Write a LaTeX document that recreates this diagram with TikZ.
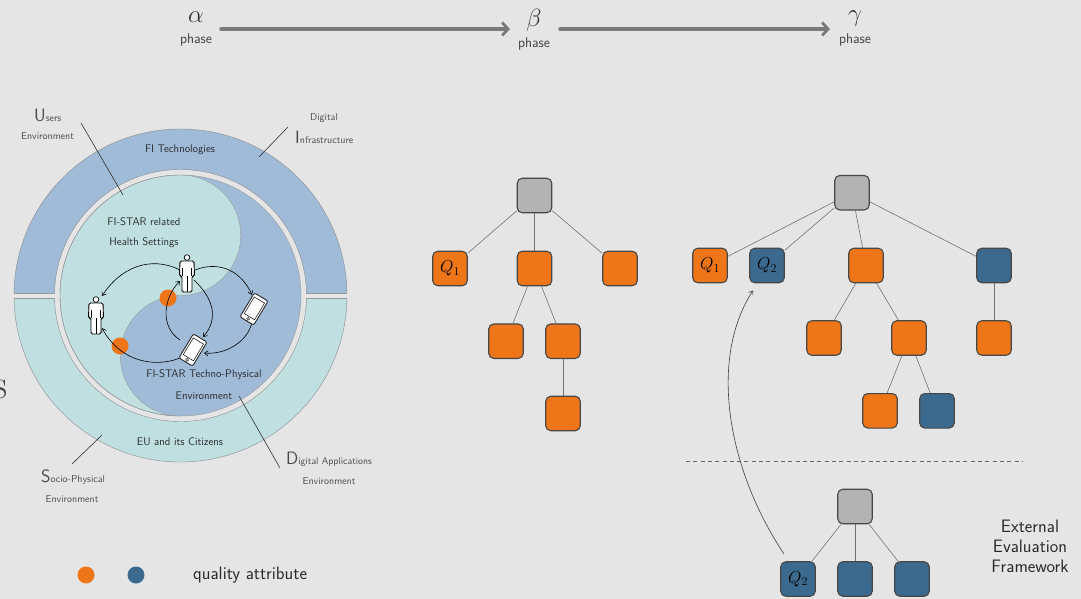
\documentclass[tikz,border=0pt]{standalone}
\usepackage{fontspec}
\usetikzlibrary{arrows.meta,calc}
\definecolor{bgc}{HTML}{E5E5E5}
\definecolor{ringblue}{HTML}{A0BBD8}
\definecolor{ringteal}{HTML}{BFDFE0}
\definecolor{orangeq}{HTML}{EE7518}
\definecolor{blueq}{HTML}{3B6A8E}
\definecolor{grayq}{HTML}{B3B3B3}
\definecolor{inkc}{HTML}{2B2B2B}
\tikzset{
  treebox/.style={draw=black!72,line width=1.1pt,rounded corners=5pt,minimum size=34.5pt,inner sep=0pt,text=black,font=\fontsize{17}{18}\selectfont},
  orangebox/.style={treebox,fill=orangeq},
  bluebox/.style={treebox,fill=blueq},
  graybox/.style={treebox,fill=grayq},
  link/.style={draw=black!55,line width=0.6pt},
  leader/.style={draw=black!85,line width=0.55pt},
  flow/.style={draw=black,line width=0.6pt,-{Straight Barb[length=3.5pt,width=5pt]}},
  phasearrow/.style={draw=black!52,line width=3.4pt,-{Straight Barb[length=6pt,width=13pt,line width=2.8pt]},line cap=round},
  lbl/.style={inner sep=0pt,text=inkc,font=\sffamily\fontsize{11}{13}\selectfont},
  small/.style={inner sep=0pt,text=black!70,font=\sffamily\fontsize{10}{12}\selectfont},
  big/.style={inner sep=0pt,text=inkc,font=\sffamily\fontsize{18}{20}\selectfont},
  phasetxt/.style={inner sep=0pt,text=black!75,font=\sffamily\fontsize{14}{16}\selectfont},
  greek/.style={inner sep=0pt,text=black!80,font=\fontsize{24}{24}\selectfont},
  dot/.style={circle,fill=#1,inner sep=0pt,minimum size=17pt},
}
\newcommand{\personicon}[2]{%
  \begin{scope}[shift={(#1,#2)}]
    \fill[white,draw=black,line width=0.7pt] (0,-15.5) circle (2.8);
    \fill[white,draw=black,line width=0.9pt,rounded corners=1.5pt]
      (-7,-12) -- (7,-12) -- (7.5,3) -- (5,3) -- (5,19) -- (-5,19) -- (-5,3) -- (-7.5,3) -- cycle;
    \draw[line width=0.9pt] (0,3) -- (0,19) (-4.8,-5) -- (-4.8,3) (4.8,-5) -- (4.8,3);
  \end{scope}}
\newcommand{\tableticon}[2]{%
  \begin{scope}[shift={(#1,#2)},rotate=-31]
    \fill[white,draw=black!85,line width=0.9pt,rounded corners=2pt] (-8,-14) rectangle (8,14);
    \fill[white,draw=black!85,line width=0.6pt] (-6,-10.5) rectangle (6,9);
    \draw[line width=0.6pt,black!85] (0,11.5) circle (1.5);
  \end{scope}}
\begin{document}
\begin{tikzpicture}[x=1pt,y=-1pt]
\useasboundingbox (0,0) rectangle (1081,599);
\fill[bgc] (0,0) rectangle (1081,599);
% outer bands
\begin{scope}
  \clip (0,0) rectangle (1081,293.2);
  \fill[ringblue,draw=black!45,line width=0.4pt,even odd rule] (180.5,295.5) circle (166.5) (180.5,295.5) circle (126);
\end{scope}
\begin{scope}
  \clip (0,298) rectangle (1081,599);
  \fill[ringteal,draw=black!45,line width=0.4pt,even odd rule] (180.5,295.5) circle (166.5) (180.5,295.5) circle (126);
\end{scope}
\draw[black!40,line width=0.4pt] (14,293.2) -- (55,293.2) (306,293.2) -- (347,293.2) (14,298) -- (55,298) (306,298) -- (347,298);
% inner disc
\fill[ringblue] (180.5,295.5) circle (120.5);
\fill[ringteal,draw=black!40,line width=0.4pt] (180.5,175) arc[start angle=-90,end angle=90,radius=60.25]
  arc[start angle=-90,end angle=-270,radius=60.25]
  arc[start angle=90,end angle=270,radius=120.5] -- cycle;
\draw[black!40,line width=0.4pt] (180.5,295.5) circle (120.5);
% leaders
\coordinate (usersA) at (81,123); \coordinate (usersB) at (123,195);
\coordinate (infraA) at (288,127); \coordinate (infraB) at (259,157);
\coordinate (socioA) at (72,464); \coordinate (socioB) at (102,435);
\coordinate (appsA) at (280,468); \coordinate (appsB) at (239,396);
\draw[leader] (usersA) -- (usersB);
\draw[leader] (infraA) -- (infraB);
\draw[leader] (socioA) -- (socioB);
\draw[leader] (appsA) -- (appsB);
% dots
\node[dot=orangeq] (odotA) at (168,298) {};
\node[dot=orangeq] (odotB) at (120,346) {};
% flows
\coordinate (p1l) at (180,270); \coordinate (p1r) at (195,270); \coordinate (p1d) at (194,280); \coordinate (p1in) at (180,281);
\coordinate (p2t) at (102,296); \coordinate (p2b) at (102,328);
\coordinate (t1t) at (252,295); \coordinate (t1b) at (252,322);
\coordinate (t2t) at (203,337); \coordinate (t2r) at (204,353); \coordinate (t2l) at (180,340); \coordinate (t2d) at (180,358);
\draw[flow] (p1l) .. controls (150,255) and (120,268) .. (p2t);
\draw[flow] (p1r) .. controls (220,260) and (242,272) .. (t1t);
\draw[flow] (p1d) .. controls (215,300) and (218,320) .. (t2t);
\draw[flow] (t1b) .. controls (248,342) and (225,355) .. (t2r);
\draw[flow] (t2l) .. controls (160,327) and (163,298) .. (p1in);
\draw[flow] (t2d) .. controls (155,368) and (120,362) .. (p2b);
% icons
\personicon{187}{273}
\personicon{96}{315}
\tableticon{254}{309}
\tableticon{193}{350}
% ring labels
\node[lbl] (fitech) at (180,150) {FI Technologies};
\node[lbl] (eucit) at (180,442) {EU and its Citizens};
\node[lbl] (hs1) at (144,222) {FI-STAR related};
\node[lbl] (hs2) at (144,243) {Health Settings};
\node[lbl] (tp1) at (204,375) {FI-STAR Techno-Physical};
\node[lbl] (tp2) at (204,396) {Environment};
\node[small,anchor=west] (ulab) at (34,115) {\fontsize{18}{18}\selectfont U\fontsize{10}{12}\selectfont sers};
\node[small] (ulab2) at (47.5,136) {Environment};
\node[small] (dilab) at (324,118) {Digital};
\node[small,anchor=west] (dilab2) at (295,137) {\fontsize{18}{18}\selectfont I\fontsize{10}{12}\selectfont nfrastructure};
\node[small,anchor=west] (slab) at (41,477) {\fontsize{18}{18}\selectfont S\fontsize{10}{12}\selectfont ocio-Physical};
\node[small] (slab2) at (72,499) {Environment};
\node[small,anchor=west] (dalab) at (286,459) {\fontsize{18}{18}\selectfont D\fontsize{9.8}{12}\selectfont igital Applications};
\node[small] (dalab2) at (329,481) {Environment};
% clipped letter at the left edge
\node[inner sep=0pt,text=black!75,font=\fontsize{42}{42}\selectfont] (edge) at (0,389) {s};
% phases
\node[greek] (alpha) at (196,17) {$\alpha$};
\node[phasetxt] (alphaP) at (196,40) {phase};
\node[greek] (beta) at (534,20) {$\beta$};
\node[phasetxt] (betaP) at (534,44) {phase};
\node[greek] (gamma) at (855,19) {$\gamma$};
\node[phasetxt] (gammaP) at (855,40) {phase};
\coordinate (arA) at (221,29); \coordinate (arB) at (510,29); \coordinate (arC) at (560,29); \coordinate (arD) at (830,29);
\draw[phasearrow] (arA) -- (arB);
\draw[phasearrow] (arC) -- (arD);
% beta tree
\node[graybox] (bR) at (534.5,195.5) {};
\node[orangebox] (bQ) at (450,268.5) {$Q_1$};
\node[orangebox] (bM) at (534.5,268.5) {};
\node[orangebox] (bS) at (620,268.5) {};
\node[orangebox] (bA) at (506,341.2) {};
\node[orangebox] (bB) at (563,341.2) {};
\node[orangebox] (bC) at (563,413.5) {};
\draw[link] (bR) -- (bQ); \draw[link] (bR) -- (bM); \draw[link] (bR) -- (bS);
\draw[link] (bM) -- (bA); \draw[link] (bM) -- (bB); \draw[link] (bB) -- (bC);
% gamma tree
\node[graybox] (gR) at (852,192.7) {};
\node[orangebox] (gQa) at (710,265.5) {$Q_1$};
\node[bluebox] (gQb) at (767,265.5) {$Q_2$};
\node[orangebox] (gM) at (866,265.5) {};
\node[bluebox] (gS) at (994,265.5) {};
\node[orangebox] (gA) at (824,338) {};
\node[orangebox] (gB) at (909,338) {};
\node[orangebox] (gC) at (994,338) {};
\node[orangebox] (gD) at (880,410.8) {};
\node[bluebox] (gE) at (937,410.8) {};
\draw[link] (gR) -- (gQa); \draw[link] (gR) -- (gQb); \draw[link] (gR) -- (gM); \draw[link] (gR) -- (gS);
\draw[link] (gM) -- (gA); \draw[link] (gM) -- (gB); \draw[link] (gS) -- (gC);
\draw[link] (gB) -- (gD); \draw[link] (gB) -- (gE);
% divider
\coordinate (dvA) at (686,461); \coordinate (dvB) at (1023,461);
\draw[black!60,line width=0.5pt,dash pattern=on 4pt off 3.3pt] (dvA) -- (dvB);
% external tree
\node[graybox] (eR) at (855,506.5) {};
\node[bluebox] (eQ) at (798,579) {$Q_2$};
\node[bluebox] (eM) at (855,579) {};
\node[bluebox] (eS) at (912,579) {};
\draw[link] (eR) -- (eQ); \draw[link] (eR) -- (eM); \draw[link] (eR) -- (eS);
\coordinate (qStart) at (784,554);
\coordinate (qEnd) at (753,290.5);
\draw[link,black!75,-{Straight Barb[length=3.5pt,width=5pt]}] (qStart) .. controls (728,470) and (708,360) .. (qEnd);
\node[big] (extl) [align=center] at (1030,546) {External\\Evaluation\\Framework};
% legend
\node[dot=orangeq] (legA) at (86,575) {};
\node[dot=blueq] (legB) at (136,575) {};
\node[big,anchor=west] (legT) at (193,575) {quality attribute};
\end{tikzpicture}
\end{document}
